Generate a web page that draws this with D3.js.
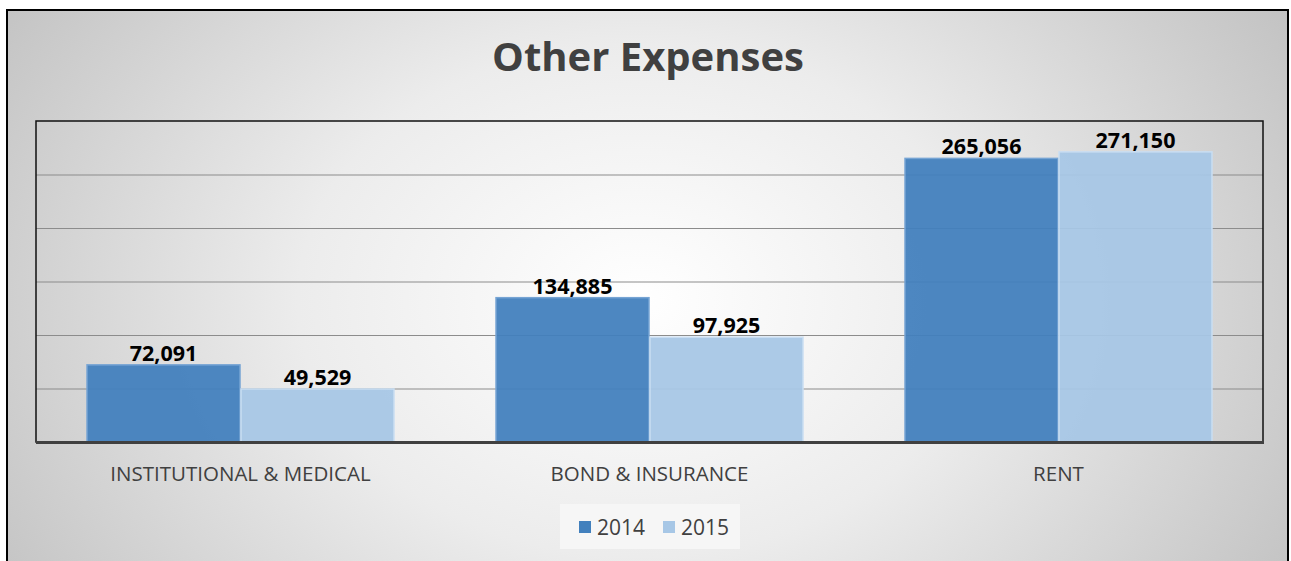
<!DOCTYPE html>
<html>
<head>
<meta charset="utf-8">
<script src="https://cdn.jsdelivr.net/npm/d3@7"></script>
<style>
  html, body { margin: 0; padding: 0; background: #fff; }
  svg { display: block; }
</style>
</head>
<body>
<div id="chart-area"></div>
<script>
/***** Data *****/
const categories = ["INSTITUTIONAL & MEDICAL", "BOND & INSURANCE", "RENT"];
const years      = ["2014", "2015"];
const values2014 = [72091, 134885, 265056];
const values2015 = [49529, 97925, 271150];
const yTicks     = [0, 50000, 100000, 150000, 200000, 250000, 300000];

const colors = { "2014": "#4280bd", "2015": "#a7c7e6" };
const strokes = { "2014": "#76a4d4", "2015": "#c9def2" };

/***** Layout *****/
const W = 1291, H = 561;
const plot = { left: 36, right: 1263, top: 121, bottom: 442 };

const svg = d3.select("#chart-area").append("svg")
  .attr("width", W).attr("height", H);

// radial background gradient
const defs = svg.append("defs");
const grad = defs.append("radialGradient").attr("id", "bg")
  .attr("gradientUnits", "userSpaceOnUse")
  .attr("cx", 640).attr("cy", 300).attr("r", 760)
  .attr("gradientTransform", "translate(640,300) scale(1,0.75) translate(-640,-300)");
grad.append("stop").attr("offset", "0%").attr("stop-color", "#ffffff");
grad.append("stop").attr("offset", "45%").attr("stop-color", "#ececec");
grad.append("stop").attr("offset", "100%").attr("stop-color", "#c2c2c2");

svg.append("rect")
  .attr("x", 7).attr("y", 10).attr("width", 1281).attr("height", 600)
  .attr("fill", "url(#bg)")
  .attr("stroke", "#000").attr("stroke-width", 2);

/***** Title *****/
svg.append("text")
  .attr("x", 648).attr("y", 71)
  .attr("text-anchor", "middle")
  .style("font-family", "'Open Sans', sans-serif")
  .style("font-weight", "bold")
  .style("font-size", "40px")
  .attr("fill", "#404040")
  .text("Other Expenses");

/***** Scales *****/
const x0 = d3.scaleBand().domain(categories)
  .range([plot.left, plot.right])
  .paddingInner(0.247).paddingOuter(0.1235);
const x1 = d3.scaleBand().domain(years).range([0, x0.bandwidth()]);
const y = d3.scaleLinear().domain([0, 300000]).range([plot.bottom, plot.top]);

/***** Gridlines *****/
const gGrid = svg.append("g")
  .attr("transform", `translate(${plot.left},0)`)
  .call(d3.axisLeft(y).tickValues(yTicks.slice(1, -1))
    .tickSize(-(plot.right - plot.left)).tickFormat(""));
gGrid.select(".domain").remove();
gGrid.selectAll("line").attr("stroke", "#8c8c8c").attr("stroke-width", 1.2);

/***** Bars *****/
const rows = categories.map((c, i) => ({
  cat: c,
  vals: [{ year: "2014", v: values2014[i] }, { year: "2015", v: values2015[i] }]
}));

const groups = svg.selectAll("g.cat").data(rows).join("g")
  .attr("class", "cat")
  .attr("transform", d => `translate(${x0(d.cat)},0)`);

groups.selectAll("rect").data(d => d.vals).join("rect")
  .attr("x", d => x1(d.year) + 0.5)
  .attr("y", d => y(d.v))
  .attr("width", x1.bandwidth() - 1)
  .attr("height", d => plot.bottom - y(d.v))
  .attr("fill", d => colors[d.year])
  .attr("fill-opacity", 0.94)
  .attr("stroke", d => strokes[d.year])
  .attr("stroke-width", 1.5);

groups.selectAll("text").data(d => d.vals).join("text")
  .attr("x", d => x1(d.year) + x1.bandwidth() / 2)
  .attr("y", d => y(d.v) - 4)
  .attr("text-anchor", "middle")
  .style("font-family", "'Open Sans', sans-serif")
  .style("font-weight", "bold")
  .style("font-size", "21.5px")
  .attr("fill", "#000")
  .text(d => d3.format(",")(d.v));

/***** Plot frame & baseline *****/
svg.append("rect")
  .attr("x", plot.left).attr("y", plot.top)
  .attr("width", plot.right - plot.left).attr("height", plot.bottom - plot.top)
  .attr("fill", "none").attr("stroke", "#111").attr("stroke-width", 1.5);

svg.append("line")
  .attr("x1", plot.left).attr("x2", plot.right + 1)
  .attr("y1", plot.bottom + 0.5).attr("y2", plot.bottom + 0.5)
  .attr("stroke", "#404040").attr("stroke-width", 3);

/***** Category axis *****/
const gX = svg.append("g")
  .attr("transform", `translate(0,${plot.bottom})`)
  .call(d3.axisBottom(x0).tickSize(0).tickPadding(24));
gX.select(".domain").remove();
gX.selectAll("text")
  .style("font-family", "'Open Sans', sans-serif")
  .style("font-size", "20.5px")
  .attr("fill", "#404040");

/***** Legend *****/
const legend = svg.append("g");
legend.append("rect")
  .attr("x", 560).attr("y", 504).attr("width", 180).attr("height", 45)
  .attr("fill", "#f6f6f6");
const legX = { "2014": 579, "2015": 663 };
years.forEach(yr => {
  legend.append("rect")
    .attr("x", legX[yr]).attr("y", 521).attr("width", 12).attr("height", 12)
    .attr("fill", colors[yr]);
  legend.append("text")
    .attr("x", legX[yr] + 18).attr("y", 535)
    .style("font-family", "'Open Sans', sans-serif")
    .style("font-size", "21px")
    .attr("fill", "#404040")
    .text(yr);
});
</script>
</body>
</html>
